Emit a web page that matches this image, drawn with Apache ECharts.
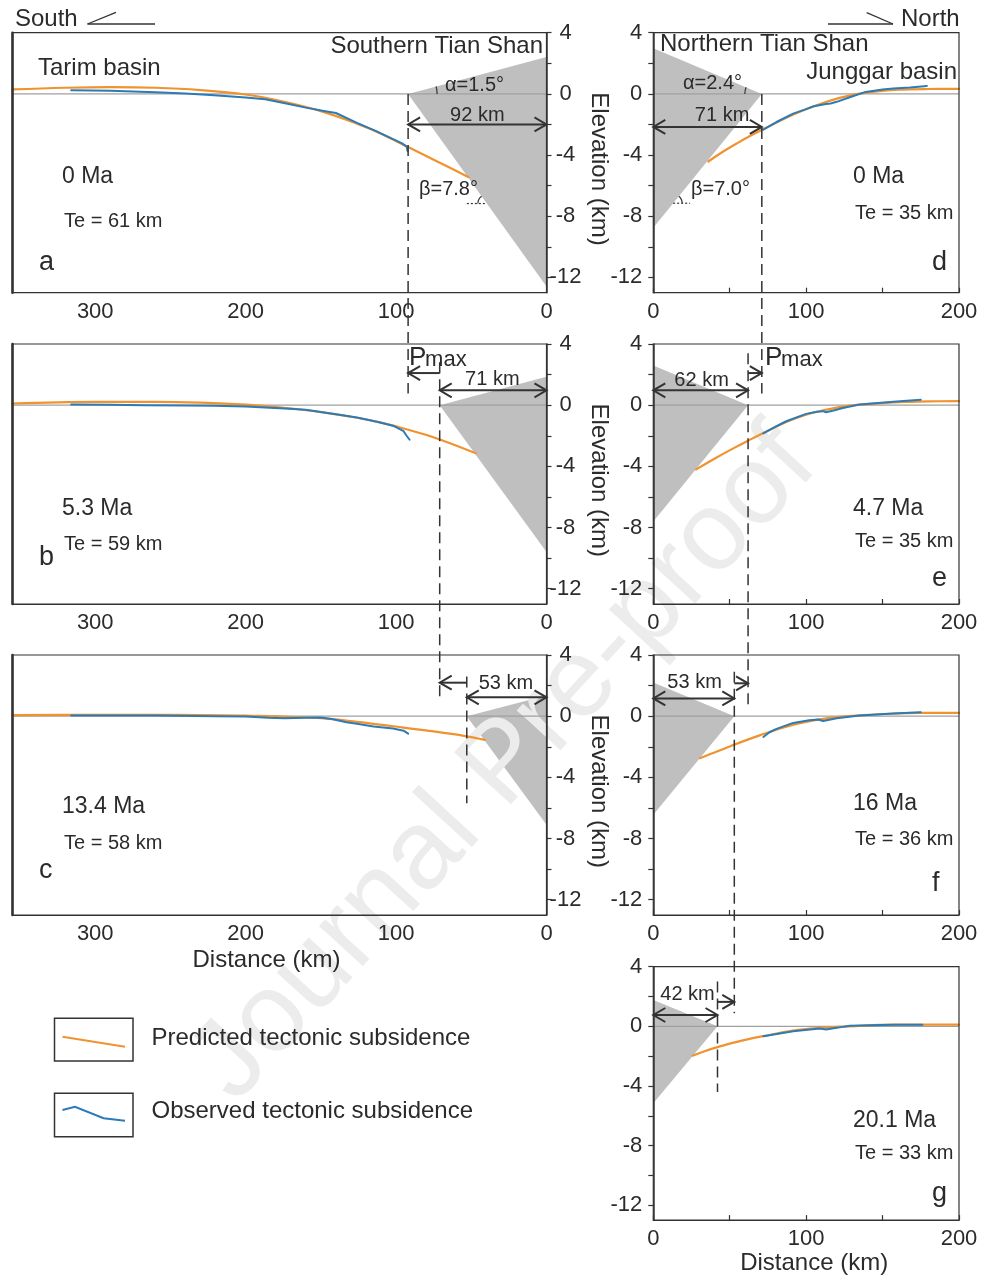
<!DOCTYPE html>
<html><head><meta charset="utf-8">
<script src="https://cdn.jsdelivr.net/npm/echarts@6/dist/echarts.min.js"></script>
<style>html,body{margin:0;padding:0;background:#fff}#c{width:982px;height:1276px}</style>
</head><body><div id="c"></div><script>
// ---------------- data (km, km) ----------------
const leftXTicks = [0, 100, 200, 300];
const rightXTicks = [0, 100, 200];
const rightXMinorTicks = [0, 50, 100, 150, 200];
const yTickLabels = [-12, -8, -4, 0, 4];
const yTicks = [-12, -10, -8, -6, -4, -2, 0, 2, 4];
const leftXMax = 355, rightXMax = 200, yMin = -13, yMax = 4;

// predicted (orange) and observed (blue) tectonic subsidence, [distance, elevation]
const predA = [[355,0.29],[320,0.40],[290,0.44],[260,0.40],[230,0.25],[200,-0.04],[175,-0.5],[150,-1.13],[126,-1.95],[110,-2.6],[92,-3.48],[72,-4.45],[52,-5.44]];
const obsA  = [[316,0.24],[290,0.2],[260,0.1],[240,0.03],[221,-0.09],[200,-0.24],[187,-0.35],[173,-0.63],[160,-0.9],[148,-1.12],[140,-1.25],[126,-1.9],[114,-2.4],[102,-2.96],[96,-3.24],[93,-3.45],[92.3,-3.75]];
const predB = [[355,0.11],[300,0.22],[260,0.22],[230,0.17],[200,0.04],[175,-0.17],[150,-0.45],[126,-0.82],[110,-1.14],[98,-1.44],[85,-1.8],[70,-2.28],[47,-3.15]];
const obsB  = [[316,0.04],[290,0.02],[268,0],[240,-0.02],[221,-0.04],[200,-0.09],[174,-0.22],[160,-0.3],[150,-0.44],[140,-0.6],[126,-0.8],[112,-1.1],[102,-1.34],[95,-1.7],[93,-2.0],[91,-2.26]];
const predC = [[355,0.07],[300,0.09],[250,0.09],[200,0.04],[175,-0.03],[150,-0.13],[126,-0.37],[102,-0.66],[78,-0.96],[54,-1.3],[41,-1.55]];
const obsC  = [[316,0.04],[260,0.04],[220,0.0],[200,-0.02],[185,-0.1],[174,-0.13],[160,-0.1],[150,-0.09],[142,-0.2],[133,-0.4],[126,-0.5],[115,-0.68],[102,-0.8],[95,-0.95],[92,-1.14]];
const predD = [[36,-4.42],[45,-3.82],[55,-3.22],[65,-2.66],[72,-2.3],[82,-1.8],[92,-1.33],[102,-0.92],[112,-0.56],[122,-0.26],[132,-0.03],[145,0.15],[160,0.27],[180,0.32],[200,0.33]];
const obsD  = [[72,-2.34],[80.6,-1.84],[91.5,-1.29],[100,-1.0],[105,-0.81],[113,-0.66],[116,-0.63],[120,-0.52],[129,-0.2],[139,0.13],[150,0.28],[157,0.35],[168,0.42],[179,0.52]];
const predE = [[28,-4.2],[40,-3.5],[52,-2.84],[63,-2.27],[72,-1.82],[80,-1.43],[87,-1.1],[94,-0.82],[100,-0.62],[108,-0.41],[116,-0.24],[124,-0.1],[135,0.03],[150,0.14],[165,0.21],[180,0.25],[200,0.26]];
const obsE  = [[72,-1.84],[80,-1.4],[87,-1.05],[100,-0.57],[107,-0.43],[111,-0.39],[113,-0.46],[118,-0.35],[124,-0.18],[135,0.04],[157,0.22],[175,0.35]];
const predF = [[30.5,-2.75],[40,-2.37],[50,-1.98],[60,-1.6],[70,-1.24],[80,-0.9],[90,-0.6],[100,-0.37],[110,-0.19],[120,-0.06],[135,0.05],[155,0.16],[175,0.21],[200,0.22]];
const obsF  = [[72,-1.36],[76,-1.05],[80.6,-0.83],[91.5,-0.44],[102,-0.26],[108,-0.22],[111,-0.31],[116,-0.22],[120,-0.13],[135,0.04],[157,0.18],[175,0.26]];
const predG = [[25.7,-1.97],[34,-1.65],[42.5,-1.38],[56.6,-0.99],[72,-0.66],[91.5,-0.29],[109,-0.11],[128.5,0],[157,0.11],[176,0.11],[200,0.11]];
const obsG  = [[72,-0.66],[91.5,-0.33],[109,-0.15],[113,-0.22],[118,-0.13],[122,-0.07],[128.5,0.04],[157,0.11],[176,0.11]];

// orogenic wedges (grey triangles)
const wedgeA = [[92,0],[0,2.41],[0,-12.6]];
const wedgeB = [[71,0],[0,1.86],[0,-9.6]];
const wedgeC = [[53,0],[0,1.35],[0,-7.1]];
const wedgeD = [[71,0],[0,2.98],[0,-8.75]];
const wedgeE = [[62,0],[0,2.6],[0,-7.6]];
const wedgeF = [[53,0],[0,2.2],[0,-6.45]];
const wedgeG = [[42,0],[0,1.76],[0,-5.16]];

const ages = ['0 Ma','5.3 Ma','13.4 Ma','0 Ma','4.7 Ma','16 Ma','20.1 Ma'];
const teValues = ['Te = 61 km','Te = 59 km','Te = 58 km','Te = 35 km','Te = 35 km','Te = 36 km','Te = 33 km'];
const letters = ['a','b','c','d','e','f','g'];

// guide (dashed) lines: distance, from grid/elev to grid/elev
const guides = [
  {km:92, g1:0, e1:0,   g2:1, e2:0.77},
  {km:71, g1:1, e1:2.8, g2:2, e2:1.05},
  {km:53, g1:2, e1:2.6, g2:2, e2:-5.7},
  {km:71, g1:3, e1:0,   g2:4, e2:0.77},
  {km:62, g1:4, e1:3.4, g2:5, e2:0.77},
  {km:53, g1:5, e1:2.9, g2:6, e2:0.87},
  {km:42, g1:6, e1:3.0, g2:6, e2:-4.4}
];
// dimension arrows
const dims = [
  {g:0, x1:92, x2:0,  e:-2.0, both:true, label:'92 km', lx:46,   le:-1.84},
  {g:1, x1:71, x2:0,  e:0.97, both:true, label:'71 km', lx:36,   le:1.23},
  {g:1, x1:92, x2:71, e:2.1,  both:false},
  {g:2, x1:53, x2:0,  e:1.23, both:true, label:'53 km', lx:27,   le:1.7},
  {g:2, x1:71, x2:53, e:2.19, both:false},
  {g:3, x1:0,  x2:71, e:-2.16,both:true, label:'71 km', lx:45,   le:-1.84},
  {g:4, x1:0,  x2:62, e:0.97, both:true, label:'62 km', lx:31.6, le:1.18},
  {g:4, x1:71, x2:62, e:2.1,  both:false},
  {g:5, x1:0,  x2:53, e:1.16, both:true, label:'53 km', lx:27,   le:1.75},
  {g:5, x1:62, x2:53, e:2.15, both:false},
  {g:6, x1:0,  x2:42, e:0.76, both:true, label:'42 km', lx:22.4, le:1.66},
  {g:6, x1:53, x2:42, e:1.64, both:false}
];

// ---------------- style ----------------
const FONT = '"Liberation Sans", Arial, sans-serif';
const TXT = '#2b2b2b', AX = '#333', ORANGE = '#f0932f', BLUE = '#2c7bb6', GREY = '#bfbfbf', ZERO = '#a0a0a0';

const panels = [
  {side:'L', top:32.7, pred:predA, obs:obsA, wedge:wedgeA},
  {side:'L', top:344,  pred:predB, obs:obsB, wedge:wedgeB},
  {side:'L', top:655,  pred:predC, obs:obsC, wedge:wedgeC},
  {side:'R', top:32.7, pred:predD, obs:obsD, wedge:wedgeD},
  {side:'R', top:344,  pred:predE, obs:obsE, wedge:wedgeE},
  {side:'R', top:655,  pred:predF, obs:obsF, wedge:wedgeF},
  {side:'R', top:966.7,pred:predG, obs:obsG, wedge:wedgeG}
];
const GL = {left:12.5, width:534}, GR = {left:653.3, width:305.7}, GH = 260;

const chart = echarts.init(document.getElementById('c'), null, {renderer:'canvas'});
const grid = [], xAxis = [], yAxis = [], series = [];
const tickFont = {fontSize:22, color:TXT, fontFamily:FONT};

panels.forEach((p, i) => {
  const L = p.side === 'L';
  grid.push({left: L ? GL.left : GR.left, top: p.top, width: L ? GL.width : GR.width, height: GH,
    show:true, borderColor:AX, borderWidth:1.2, backgroundColor:'transparent', z:5});
  const xmax = L ? leftXMax : rightXMax;
  const xa = {gridIndex:i, type:'value', min:0, max:xmax, inverse:L, z:5, position:'bottom',
    axisLine:{show:true, onZero:false, lineStyle:{color:AX, width:1.2}},
    axisTick: L ? {show:false} : {show:true, inside:true, length:5, customValues:rightXMinorTicks, lineStyle:{color:AX, width:1.2}},
    axisLabel: Object.assign({customValues: L ? leftXTicks : rightXTicks, margin:8}, tickFont),
    splitLine:{show:false}};
  if (i === 2 || i === 6) {
    xa.name = 'Distance (km)'; xa.nameLocation = 'middle'; xa.nameGap = (i === 2 ? 33.5 : 23);
    xa.nameTextStyle = {fontSize:24, color:TXT, fontFamily:FONT, padding: i === 2 ? [0,26,0,0] : [0,0,0,16]};
  }
  xAxis.push(xa);
  yAxis.push({gridIndex:i, type:'value', min:yMin, max:yMax, position: L ? 'right' : 'left', z:5,
    axisLine:{show:true, onZero:false, lineStyle:{color:AX, width:1.5}},
    axisTick:{show:true, inside:false, length:5, customValues:yTicks, lineStyle:{color:AX, width:1.2}},
    axisLabel: Object.assign({customValues:yTickLabels, margin: L ? 19 : 11, align: L ? 'center' : 'right'}, tickFont),
    splitLine:{show:false}});

  const wedge = p.wedge;
  series.push({type:'custom', xAxisIndex:i, yAxisIndex:i, z:1, silent:true, data:[[0,0]],
    renderItem: (params, api) => ({type:'polygon', shape:{points: wedge.map(v => api.coord(v))}, style:{fill:GREY}})});
  series.push({type:'line', xAxisIndex:i, yAxisIndex:i, z:3, silent:true, showSymbol:false,
    data:[[0,0],[xmax,0]], lineStyle:{color:ZERO, width:1.2}});
  series.push({type:'line', name:'Predicted tectonic subsidence', xAxisIndex:i, yAxisIndex:i, z:3, silent:true,
    showSymbol:false, smooth:0.4, data:p.pred, lineStyle:{color:ORANGE, width:2.2, cap:'round', join:'round'}});
  series.push({type:'line', name:'Observed tectonic subsidence', xAxisIndex:i, yAxisIndex:i, z:4, silent:true,
    showSymbol:false, data:p.obs, lineStyle:{color:BLUE, width:2, cap:'round', join:'round'}});
});
// thick left frame for the left column
[0,1,2].forEach(i => yAxis.push({gridIndex:i, type:'value', min:yMin, max:yMax, position:'left', z:6,
  axisLine:{show:true, onZero:false, lineStyle:{color:AX, width:2.6}}, axisTick:{show:false}, axisLabel:{show:false}, splitLine:{show:false}}));

chart.setOption({animation:false, backgroundColor:'#fff', grid, xAxis, yAxis, series});

// ---------------- annotations ----------------
const P = (g, x, y) => chart.convertToPixel({xAxisIndex:g, yAxisIndex:g}, [x, y]);
const G = [];
const T = (text, x, base, size, align, extra) => Object.assign({type:'text', z:10, silent:true, x: x, y: base - 0.3465*size,
  style:{text, fill:TXT, fontSize:size, fontFamily:FONT, textAlign: align || 'left', verticalAlign:'middle'}}, extra || {});
const Ln = (x1, y1, x2, y2, w, dash) => ({type:'line', z:10, silent:true, shape:{x1,y1,x2,y2},
  style:{stroke:AX, lineWidth:w || 1.2, lineDash: dash || null}});
const PL = (pts, w, col) => ({type:'polyline', z:10, silent:true, shape:{points:pts}, style:{stroke:col || AX, fill:null, lineWidth:w || 2}});

// watermark
G.push({type:'text', z:2, silent:true, x:505, y:765, rotation: 47.5*Math.PI/180,
  style:{text:'Journal Pre-proof', fill:'#ececec', fontSize:112, fontFamily:FONT, textAlign:'center', verticalAlign:'middle'}});

// guides
guides.forEach(gd => {
  const a = P(gd.g1, gd.km, gd.e1), b = P(gd.g2, gd.km, gd.e2);
  G.push(Ln(a[0], a[1], a[0], b[1], 1.5, [11, 6]));
});
// dimension arrows
dims.forEach(d => {
  const p1 = P(d.g, d.x1, d.e), p2 = P(d.g, d.x2, d.e);
  const y = p1[1];
  G.push(Ln(p1[0], y, p2[0], y, 2));
  const dir = Math.sign(p2[0] - p1[0]);
  G.push(PL([[p1[0] + dir*12, y - 7], [p1[0], y], [p1[0] + dir*12, y + 7]], 2));
  if (d.both) G.push(PL([[p2[0] - dir*12, y - 7], [p2[0], y], [p2[0] - dir*12, y + 7]], 2));
  if (d.label) { const lp = P(d.g, d.lx, d.le); G.push(T(d.label, lp[0], lp[1], 20, 'center')); }
});
// Pmax labels
[[1, 92], [4, 72.5]].forEach(([g, km]) => {
  const p = P(g, km, 2.48);
  G.push(T('P', p[0] + 1, p[1], 26));
  G.push(T('max', p[0] + 17, p[1], 22));
});
// angle marks (alpha, beta)
function angleMarks(g, wedge, alphaR, betaLevel, betaLen) {
  const tip = P(g, wedge[0][0], 0), top = P(g, wedge[1][0], wedge[1][1]);
  const ea = Math.atan2(top[1] - tip[1], top[0] - tip[0]);
  if (g < 3) {
    G.push({type:'arc', z:10, silent:true, shape:{cx:tip[0], cy:tip[1], r:alphaR, startAngle:ea, endAngle:0, clockwise:true}, style:{stroke:AX, fill:null, lineWidth:1.2}});
  } else {
    G.push({type:'arc', z:10, silent:true, shape:{cx:tip[0], cy:tip[1], r:alphaR, startAngle:Math.PI, endAngle:ea + 2*Math.PI, clockwise:true}, style:{stroke:AX, fill:null, lineWidth:1.2}});
  }
  const dB = wedge[0][0] * (1 - betaLevel / wedge[2][1]);
  const pt = P(g, dB, betaLevel);
  const toTip = Math.atan2(tip[1] - pt[1], tip[0] - pt[0]);
  if (g < 3) {
    G.push(Ln(pt[0] - betaLen, pt[1], pt[0], pt[1], 1.2, [2, 2]));
    G.push({type:'arc', z:10, silent:true, shape:{cx:pt[0], cy:pt[1], r:9, startAngle:Math.PI, endAngle:toTip + 2*Math.PI, clockwise:true}, style:{stroke:AX, fill:null, lineWidth:1.2}});
  } else {
    G.push(Ln(pt[0], pt[1], pt[0] + betaLen, pt[1], 1.2, [2, 2]));
    G.push({type:'arc', z:10, silent:true, shape:{cx:pt[0], cy:pt[1], r:9, startAngle:toTip, endAngle:0, clockwise:true}, style:{stroke:AX, fill:null, lineWidth:1.2}});
  }
}
angleMarks(0, wedgeA, 29, -7.17, 20);
angleMarks(3, wedgeD, 17, -7.15, 17);
G.push(T('α=1.5°', 445, 92, 20));
G.push(T('β=7.8°', 419, 196.7, 20));
G.push(T('α=2.4°', 683, 90, 20));
G.push(T('β=7.0°', 691, 196.7, 20));

// headings
G.push(T('South', 15, 28, 24));
G.push(Ln(87.5, 24, 155, 24, 1.3)); G.push(Ln(87.5, 24, 116, 12.3, 1.3));
G.push(T('North', 901, 28, 24));
G.push(Ln(828, 24, 893, 24, 1.3)); G.push(Ln(866.7, 12.7, 893, 24, 1.3));
G.push(T('Southern Tian Shan', 543, 55, 24, 'right'));
G.push(T('Tarim basin', 38, 77, 24));
G.push(T('Northern Tian Shan', 660, 53, 24));
G.push(T('Junggar basin', 957, 81, 24, 'right'));

// panel texts
const ageBase = [185, 516.7, 815, 185, 516.7, 811.7, 1128.3];
const teBase = [228, 551.7, 850, 220, 548.3, 846.7, 1160];
const letBase = [272, 566.7, 880, 271.7, 588.3, 893.3, 1202.7];
panels.forEach((p, i) => {
  const L = p.side === 'L';
  G.push(T(ages[i], L ? 62 : 853, ageBase[i], 23));
  G.push(T(teValues[i], L ? 64 : 855, teBase[i], 20));
  G.push(T(letters[i], L ? 39 : 932, letBase[i], 27));
  if (L) G.push({type:'text', z:10, silent:true, x:598.5, y:p.top + 136.3, rotation:-Math.PI/2,
    style:{text:'Elevation (km)', fill:TXT, fontSize:24, fontFamily:FONT, textAlign:'center', verticalAlign:'middle'}});
});

// legend
G.push({type:'rect', z:10, silent:true, shape:{x:54.5, y:1018.3, width:78.5, height:42.7}, style:{fill:null, stroke:AX, lineWidth:1.5}});
G.push({type:'rect', z:10, silent:true, shape:{x:54.5, y:1093.3, width:78.5, height:43.4}, style:{fill:null, stroke:AX, lineWidth:1.5}});
G.push(PL([[62.5, 1036.7], [125, 1046.7]], 2, ORANGE));
G.push(PL([[62.5, 1110], [75, 1106.7], [103.6, 1118.3], [125, 1120.7]], 2, BLUE));
G.push(T('Predicted tectonic subsidence', 151.5, 1046.7, 24));
G.push(T('Observed tectonic subsidence', 151.5, 1120, 24));

chart.setOption({graphic: {elements: G}});
</script></body></html>
